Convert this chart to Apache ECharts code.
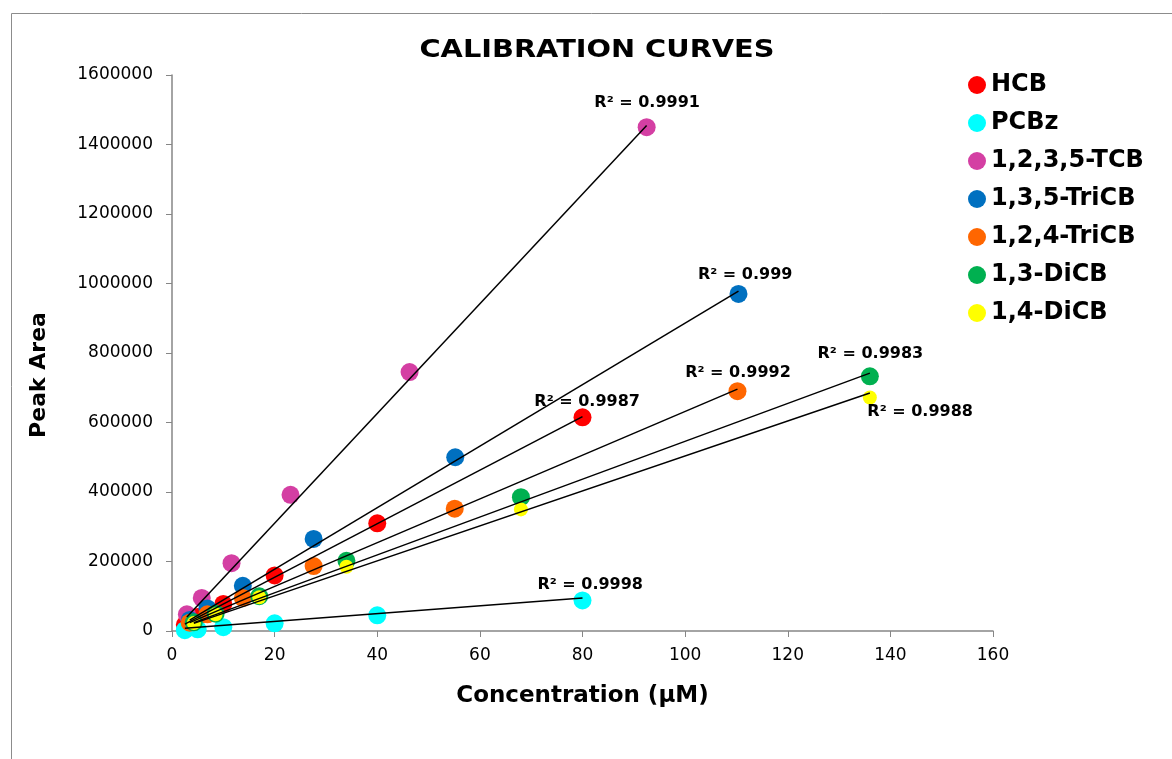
<!DOCTYPE html>
<html>
<head>
<meta charset="utf-8">
<script src="https://cdn.jsdelivr.net/npm/echarts@6/dist/echarts.min.js"></script>
<style>
  html, body { margin: 0; padding: 0; background: #fff; }
  #chart { width: 1172px; height: 759px; }
</style>
</head>
<body>
<div id="chart"></div>
<script>
// series names and colours
const names = ['HCB', 'PCBz', '1,2,3,5-TCB', '1,3,5-TriCB', '1,2,4-TriCB', '1,3-DiCB', '1,4-DiCB'];
const colors = ['#ff0000', '#00ffff', '#d43fa3', '#0070c0', '#ff6600', '#00b050', '#ffff00'];

// measured points [concentration µM, peak area]
const hcb = [[2.5, 18000], [5, 40000], [10, 78000], [20, 160000], [40, 310000], [80, 615000]];
const pcbz = [[2.5, 2500], [5, 5000], [10, 11000], [20, 22000], [40, 45000], [80, 88000]];
const tcb1235 = [[2.9, 48000], [5.8, 95000], [11.6, 195000], [23.1, 392000], [46.3, 745000], [92.5, 1450000]];
const tricb135 = [[3.45, 32000], [6.9, 65000], [13.8, 130000], [27.6, 265000], [55.2, 500000], [110.4, 970000]];
const tricb124 = [[3.45, 24000], [6.9, 48000], [13.8, 95000], [27.6, 187000], [55.1, 352000], [110.2, 690000]];
const dicb13 = [[4.25, 25000], [8.5, 50000], [17, 100000], [34, 202000], [68, 385000], [136, 733000]];
const dicb14 = [[4.25, 23000], [8.5, 48000], [17, 97000], [34, 185000], [68, 350000], [136, 672000]];

// trendline end points
const trendHcb = [[2.5, 20000], [80, 617000]];
const trendPcbz = [[2.5, 8000], [80, 95000]];
const trendTcb1235 = [[2.9, 40000], [92.5, 1455000]];
const trendTricb135 = [[3.45, 31000], [110.4, 978000]];
const trendTricb124 = [[3.45, 24000], [110.2, 696000]];
const trendDicb13 = [[4.25, 24000], [136, 742000]];
const trendDicb14 = [[4.25, 22000], [136, 685000]];

// R² labels [x, y, text]
const r2Labels = [
  [92.6, 1519000, 'R² = 0.9991'],
  [111.7, 1024000, 'R² = 0.999'],
  [80.9, 659000, 'R² = 0.9987'],
  [110.3, 742000, 'R² = 0.9992'],
  [136.1, 797000, 'R² = 0.9983'],
  [145.8, 630000, 'R² = 0.9988'],
  [81.5, 132000, 'R² = 0.9998']
];

const xTicks = { min: 0, max: 160, interval: 20 };
const yTicks = { min: 0, max: 1600000, interval: 200000 };

const pointSets = [hcb, pcbz, tcb1235, tricb135, tricb124, dicb13, dicb14];
const trendSets = [trendHcb, trendPcbz, trendTcb1235, trendTricb135, trendTricb124, trendDicb13, trendDicb14];

const chart = echarts.init(document.getElementById('chart'));
const FONT = '"DejaVu Sans", sans-serif';
const axisGray = '#868686';

const series = [];
pointSets.forEach((pts, i) => {
  series.push({
    name: names[i], type: 'scatter', data: pts,
    symbolSize: i === 6 ? 14 : 18,
    itemStyle: { color: colors[i], opacity: 1 },
    z: 2
  });
});
trendSets.forEach(t => {
  series.push({
    type: 'line', data: t, showSymbol: false, symbol: 'none',
    lineStyle: { color: '#000', width: 1.5 },
    z: 5, silent: true
  });
});
series.push({
  type: 'scatter', symbolSize: 1, silent: true, z: 6,
  itemStyle: { color: 'rgba(0,0,0,0)', opacity: 1 },
  data: r2Labels.map(l => ({ value: [l[0], l[1]], name: l[2] })),
  label: {
    show: true, position: 'inside', formatter: p => p.name, opacity: 1,
    color: '#000', fontFamily: FONT, fontWeight: 'bold', fontSize: 16
  }
});

chart.setOption({
  animation: false,
  textStyle: { fontFamily: FONT },
  graphic: [
    { type: 'polyline', shape: { points: [[11.5, 759], [11.5, 13.5], [1172, 13.5]] },
      style: { stroke: '#8c8c8c', lineWidth: 1, fill: null }, silent: true },
    { type: 'text', x: 597, y: 51, scaleX: 1.2, originX: 0, silent: true,
      style: { text: 'CALIBRATION CURVES', fill: '#000', font: 'bold 24px "DejaVu Sans", sans-serif',
        align: 'center', verticalAlign: 'middle' } }
  ],
  legend: {
    orient: 'vertical', left: 963, top: 68,
    data: names, icon: 'circle', itemWidth: 18, itemHeight: 18, itemGap: 14,
    textStyle: { fontFamily: FONT, fontWeight: 'bold', fontSize: 24, color: '#000' }
  },
  grid: { left: 172, right: 179, top: 75, bottom: 128 },
  xAxis: {
    type: 'value', min: xTicks.min, max: xTicks.max, interval: xTicks.interval,
    name: 'Concentration (μM)', nameLocation: 'middle', nameGap: 54,
    nameTextStyle: { fontFamily: FONT, fontWeight: 'bold', fontSize: 23, color: '#000' },
    axisLine: { show: true, lineStyle: { color: axisGray, width: 1.5 } },
    axisTick: { show: true, length: 6, lineStyle: { color: axisGray } },
    axisLabel: { fontFamily: FONT, fontSize: 17, color: '#000', margin: 16 },
    splitLine: { show: false }
  },
  yAxis: {
    type: 'value', min: yTicks.min, max: yTicks.max, interval: yTicks.interval,
    name: 'Peak Area', nameLocation: 'middle', nameGap: 122, nameRotate: 90,
    nameTextStyle: { fontFamily: FONT, fontWeight: 'bold', fontSize: 22, color: '#000', padding: [0, 44, 0, 0] },
    axisLine: { show: true, lineStyle: { color: axisGray, width: 1.5 } },
    axisTick: { show: true, length: 6, lineStyle: { color: axisGray } },
    axisLabel: { fontFamily: FONT, fontSize: 17, color: '#000', margin: 19, formatter: v => String(v) },
    splitLine: { show: false }
  },
  series: series
});
</script>
</body>
</html>
